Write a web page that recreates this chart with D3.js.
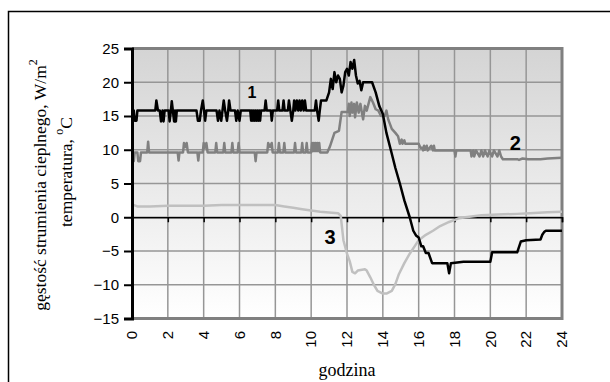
<!DOCTYPE html>
<html>
<head>
<meta charset="utf-8">
<script src="https://cdn.jsdelivr.net/npm/d3@7"></script>
<style>
  body { margin: 0; background: #fff; }
  svg { display: block; }
</style>
</head>
<body>
<svg width="610" height="382"></svg>
<script>
// hours on x
const xTicks = [0, 2, 4, 6, 8, 10, 12, 14, 16, 18, 20, 22, 24]
const yTicks = [-15, -10, -5, 0, 5, 10, 15, 20, 25]

// 1 - black
const series1 = [
  [0,15.8],[0.1,15.8],[0.15,14.3],[0.25,14.3],[0.3,15.8],[1.3,15.8],[1.36,17.3],[1.45,15.8],
  [1.55,15.8],[1.62,14.2],[1.7,15.8],[1.76,14.2],[1.82,15.8],[2.05,15.8],[2.1,14.2],[2.17,15.8],
  [2.22,17.2],[2.28,15.8],[2.35,14.2],[2.4,15.8],[2.45,14.2],[2.5,15.8],[3.6,15.8],[3.68,14.3],
  [3.78,14.3],[3.85,15.8],[3.95,17.3],[4.02,15.8],[4.08,14.3],[4.15,15.8],[4.72,15.8],[4.8,14.3],
  [4.88,15.8],[4.98,14.3],[5.05,15.8],[5.12,17.3],[5.2,15.8],[5.3,14.3],[5.37,15.8],[5.42,17.3],
  [5.5,15.8],[5.75,15.8],[5.82,14.3],[5.9,15.8],[6.0,14.3],[6.07,15.8],[6.6,15.8],[6.65,14.3],
  [6.7,15.8],[6.75,14.3],[6.8,15.8],[6.85,14.3],[6.9,15.8],[6.95,14.3],[7.0,15.8],[7.05,14.3],
  [7.1,15.8],[7.15,14.3],[7.2,15.8],[7.4,15.8],[7.46,17.3],[7.52,15.8],[7.75,15.8],[7.8,14.3],
  [7.86,15.8],[8.1,15.8],[8.16,17.3],[8.22,15.8],[8.4,15.8],[8.46,17.3],[8.52,15.8],[8.7,15.8],
  [8.76,17.3],[8.84,15.8],[8.92,14.3],[9.0,15.8],[9.05,17.3],[9.12,15.8],[9.2,17.3],[9.28,15.8],
  [9.35,17.3],[9.42,15.8],[9.5,17.3],[9.58,15.8],[9.65,17.3],[9.72,15.8],[10.2,15.8],[10.27,17.3],
  [10.33,15.8],[10.42,14.3],[10.48,15.8],[10.55,17.3],[10.85,17.3],[11.0,18.5],[11.1,20.5],
  [11.2,19.0],[11.3,21.5],[11.4,20.0],[11.5,21.0],[11.6,20.5],[11.7,18.5],[11.8,19.5],[11.9,21.5],
  [12.0,22.0],[12.1,21.0],[12.2,23.0],[12.3,22.0],[12.4,23.3],[12.5,21.0],[12.6,19.8],[12.7,20.2],
  [12.8,18.8],[12.9,20.0],[13.4,20.0],[13.6,18.5],[13.8,16.5],[14.0,15.3],[14.2,12.5],[14.5,9.4],
  [14.7,7.3],[14.95,5.0],[15.2,2.5],[15.5,0],[15.7,-2.0],[15.85,-2.7],[16.0,-3.0],[16.15,-4.3],
  [16.25,-4.3],[16.4,-5.3],[16.55,-5.3],[16.75,-6.8],[17.6,-6.8],[17.7,-8.3],[17.8,-6.8],
  [18.5,-6.6],[20.0,-6.6],[20.1,-5.2],[21.5,-5.2],[21.7,-3.6],[22.0,-3.4],[22.8,-3.3],[22.9,-2.6],
  [23.0,-2.2],[23.1,-2.0],[24,-2.0]
]

// 2 - dark grey
const series2 = [
  [0,9.6],[0.05,9.6],[0.1,8.3],[0.15,9.6],[0.3,9.6],[0.35,8.3],[0.45,8.3],[0.5,9.6],[0.85,9.6],
  [0.9,11.2],[0.95,9.6],[2.55,9.6],[2.6,8.4],[2.65,9.6],[2.85,9.6],[2.9,11.0],[2.97,10.4],[3.05,11.0],
  [3.12,9.6],[3.65,9.6],[3.7,8.4],[3.75,9.6],[3.95,9.6],[4.0,11.0],[4.07,10.3],[4.15,11.0],[4.22,9.6],
  [4.65,9.6],[4.7,11.0],[4.75,9.6],[5.1,9.6],[5.15,11.0],[5.2,9.6],[5.55,9.6],[5.6,11.0],[5.65,9.6],
  [5.9,9.6],[5.95,11.0],[6.0,9.6],[6.85,9.6],[6.9,8.3],[6.95,9.6],[7.55,9.6],[7.6,11.0],[7.7,10.4],
  [7.8,11.0],[7.85,9.6],[8.15,9.6],[8.2,11.0],[8.25,9.6],[8.45,9.6],[8.5,11.0],[8.55,9.6],[9.05,9.6],
  [9.1,11.0],[9.15,9.6],[9.45,9.6],[9.5,11.0],[9.55,9.6],[9.7,9.6],[9.75,11.0],[9.8,9.6],[10.0,9.6],
  [10.05,11.0],[10.1,9.8],[10.15,11.0],[10.2,9.8],[10.25,11.0],[10.3,9.8],[10.35,11.0],[10.4,9.8],
  [10.45,11.0],[10.5,9.6],[10.9,9.6],[11.05,10.5],[11.3,12.5],[11.55,12.8],[11.7,15.6],[12.05,15.6],
  [12.1,16.8],[12.15,15.0],[12.25,17.0],[12.3,15.5],[12.4,16.8],[12.45,14.8],[12.55,17.0],[12.65,15.5],
  [12.75,16.8],[12.85,15.2],[12.9,14.5],[13.0,16.5],[13.1,15.8],[13.2,16.8],[13.3,17.8],[13.45,17.0],
  [13.6,16.0],[13.75,15.8],[13.9,15.0],[14.1,15.0],[14.2,15.8],[14.3,14.5],[14.5,13.1],[14.7,12.5],
  [14.85,12.0],[14.95,10.9],[15.05,11.5],[15.1,10.9],[15.2,11.4],[15.25,10.9],[16.0,10.9],[16.1,10.3],
  [16.2,10.3],[16.25,9.9],[16.3,10.6],[16.35,10.0],[16.45,10.6],[16.5,9.9],[16.7,10.6],[16.8,9.9],
  [16.85,10.6],[16.9,9.9],[18.0,9.9],[18.05,9.0],[18.1,9.9],[18.9,9.9],[18.95,9.0],[19.05,9.9],
  [19.1,9.0],[19.2,9.9],[19.4,9.0],[19.5,9.9],[19.6,9.0],[19.7,9.9],[19.85,9.0],[19.95,9.9],[20.1,9.0],
  [20.2,9.9],[20.4,9.0],[20.5,9.9],[20.6,9.0],[20.7,8.6],[21.5,8.6],[21.6,8.5],[21.8,8.7],[22.1,8.6],
  [22.8,8.6],[23.2,8.7],[24,8.8]
]

// 3 - light grey
const series3 = [
  [0,1.9],[0.3,1.6],[1,1.6],[2,1.7],[3,1.7],[4,1.7],[5,1.8],[6,1.8],[7,1.8],[8,1.8],[8.5,1.6],
  [9,1.4],[9.5,1.2],[10,1.0],[10.5,0.8],[11,0.7],[11.5,0.6],[11.65,0.2],[11.8,-3.4],[12.0,-5.4],
  [12.15,-6.5],[12.3,-8.1],[12.45,-8.3],[12.6,-7.9],[13.0,-7.7],[13.1,-7.9],[13.3,-8.9],[13.5,-10.0],
  [13.7,-10.9],[14.0,-11.3],[14.2,-11.3],[14.5,-10.9],[14.7,-9.9],[14.9,-8.4],[15.2,-6.8],[15.5,-5.4],
  [15.8,-4.2],[16.0,-3.4],[16.4,-2.6],[16.8,-2.0],[17.2,-1.3],[17.7,-0.7],[18.2,-0.2],[18.6,0],
  [19.5,0.3],[20.4,0.4],[21.5,0.5],[22.2,0.6],[23.2,0.75],[24,0.8]
]

const seriesColors = ["#000000", "#808080", "#c0c0c0"]
const seriesLabels = ["1", "2", "3"]

var svg = d3.select("svg")
var plotLeft = 132, plotRight = 562, plotTop = 48.5, plotBottom = 318.5

var x = d3.scaleLinear().domain([0, 24]).range([plotLeft, plotRight])
var y = d3.scaleLinear().domain([-15, 25]).range([plotBottom, plotTop])

// outer frame (runs off the page on right/bottom)
svg.append("path")
  .attr("d", "M8.5,390 L8.5,11.5 L620,11.5")
  .attr("fill", "none").attr("stroke", "#000").attr("stroke-width", 1.5)

let defs = svg.append("defs")
let grad = defs.append("linearGradient").attr("id", "bg")
  .attr("x1", 0).attr("y1", 0).attr("x2", 0).attr("y2", 1)
grad.append("stop").attr("offset", "0%").attr("stop-color", "#d4d4d4")
grad.append("stop").attr("offset", "100%").attr("stop-color", "#ffffff")

svg.append("rect")
  .attr("x", plotLeft).attr("y", plotTop)
  .attr("width", plotRight - plotLeft).attr("height", plotBottom - plotTop)
  .attr("fill", "url(#bg)")

// grid
svg.append("g").selectAll("line").data(xTicks.slice(1, -1)).enter().append("line")
  .attr("x1", d => x(d)).attr("x2", d => x(d))
  .attr("y1", plotTop).attr("y2", plotBottom)
  .attr("stroke", "#969696").attr("stroke-width", 1.5)
svg.append("g").selectAll("line").data(yTicks.slice(1, -1)).enter().append("line")
  .attr("x1", plotLeft).attr("x2", plotRight)
  .attr("y1", d => y(d)).attr("y2", d => y(d))
  .attr("stroke", "#969696").attr("stroke-width", 1.5)

// grey plot border (top, right, bottom)
svg.append("path")
  .attr("d", `M${plotLeft},${plotTop} L${plotRight},${plotTop} L${plotRight},${plotBottom} L${plotLeft},${plotBottom}`)
  .attr("fill", "none").attr("stroke", "#808080").attr("stroke-width", 3)

// x axis at zero
var xAxis = d3.axisBottom(x).tickValues(xTicks).tickSize(5).tickFormat("")
svg.append("g")
  .attr("transform", `translate(0,${y(0)})`)
  .call(xAxis)
  .call(g => g.select(".domain").attr("stroke-width", 1.5))
  .call(g => g.selectAll(".tick line").attr("stroke-width", 1.5))

// x tick labels, rotated
svg.append("g").selectAll("text").data(xTicks).enter().append("text")
  .attr("transform", d => `translate(${x(d)},331) rotate(-90)`)
  .attr("text-anchor", "end")
  .attr("dy", "0.35em")
  .attr("font-family", "Liberation Sans, Arial, sans-serif")
  .attr("font-size", 15)
  .text(d => d)

// series
var line = d3.line().x(d => x(d[0])).y(d => y(d[1]))
var allSeries = [series1, series2, series3]
svg.append("g").selectAll("path")
  .data([2, 1, 0]).enter().append("path")
  .attr("d", i => line(allSeries[i]))
  .attr("fill", "none")
  .attr("stroke", i => seriesColors[i])
  .attr("stroke-width", 2.5)
  .attr("stroke-linejoin", "round")

// y axis
var yAxis = d3.axisLeft(y).tickValues(yTicks).tickSize(8).tickPadding(5)
svg.append("g")
  .attr("transform", `translate(${plotLeft},0)`)
  .call(yAxis)
  .call(g => g.select(".domain").attr("stroke-width", 3))
  .call(g => g.selectAll(".tick line").attr("stroke-width", 2))
  .call(g => g.selectAll(".tick text")
    .attr("font-family", "Liberation Sans, Arial, sans-serif")
    .attr("font-size", 15).attr("fill", "#000"))

// series numbers [hour, value, size]
var labelPos = [[6.7, 17.6, 16], [21.4, 9.9, 20], [11.05, -3.9, 20]]
svg.append("g").selectAll("text").data(labelPos).enter().append("text")
  .attr("x", d => x(d[0])).attr("y", d => y(d[1]))
  .attr("text-anchor", "middle")
  .attr("font-family", "Liberation Sans, Arial, sans-serif")
  .attr("font-weight", "bold")
  .attr("font-size", d => d[2])
  .text((d, i) => seriesLabels[i])

// axis titles
svg.append("text")
  .attr("x", (plotLeft + plotRight) / 2).attr("y", 376)
  .attr("text-anchor", "middle")
  .attr("font-family", "Liberation Serif, Times New Roman, serif")
  .attr("font-size", 18)
  .text("godzina")

let yTitle = svg.append("text")
  .attr("transform", "translate(46,185) rotate(-90)")
  .attr("text-anchor", "middle")
  .attr("font-family", "Liberation Serif, Times New Roman, serif")
  .attr("font-size", 17.5)
yTitle.append("tspan").text("gęstość strumienia cieplnego, W/m")
yTitle.append("tspan").attr("font-size", 12).attr("dy", -9).text("2")

let yTitle2 = svg.append("text")
  .attr("transform", "translate(72,172) rotate(-90)")
  .attr("text-anchor", "middle")
  .attr("font-family", "Liberation Serif, Times New Roman, serif")
  .attr("font-size", 17.5)
yTitle2.append("tspan").text("temperatura, ")
yTitle2.append("tspan").attr("font-size", 12).attr("dy", -9).text("o")
yTitle2.append("tspan").attr("dy", 9).text("C")
</script>
</body>
</html>
